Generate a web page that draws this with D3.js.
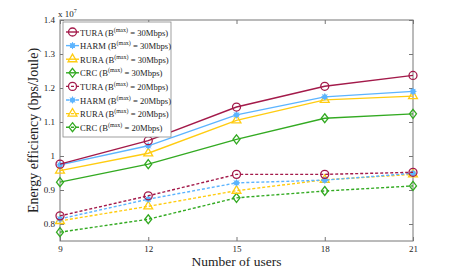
<!DOCTYPE html>
<html>
<head>
<meta charset="utf-8">
<script src="https://cdn.jsdelivr.net/npm/d3@7"></script>
<style>
  body { margin: 0; background: #fff; }
  svg text { font-family: "Liberation Serif", "Times New Roman", serif; fill: #222; }
</style>
</head>
<body>
<div id="chart"></div>
<script>
const users = [9, 12, 15, 18, 21];
const yTicks = [0.8, 0.9, 1, 1.1, 1.2, 1.3, 1.4];

const tura30 = [0.976, 1.045, 1.144, 1.205, 1.237];
const harm30 = [0.974, 1.030, 1.121, 1.174, 1.190];
const rura30 = [0.957, 1.008, 1.105, 1.165, 1.176];
const crc30  = [0.923, 0.976, 1.049, 1.111, 1.124];
const tura20 = [0.824, 0.883, 0.946, 0.946, 0.952];
const harm20 = [0.815, 0.873, 0.921, 0.929, 0.949];
const rura20 = [0.809, 0.852, 0.898, 0.930, 0.946];
const crc20  = [0.776, 0.814, 0.877, 0.897, 0.912];

const series = [
    { name: "TURA", bw: "30Mbps", values: tura30, color: "#a31a4a", marker: "circle", dash: null },
    { name: "HARM", bw: "30Mbps", values: harm30, color: "#5cb4ff", marker: "star", dash: null },
    { name: "RURA", bw: "30Mbps", values: rura30, color: "#ffcc11", marker: "triangle", dash: null },
    { name: "CRC",  bw: "30Mbps", values: crc30,  color: "#33aa22", marker: "diamond", dash: null },
    { name: "TURA", bw: "20Mbps", values: tura20, color: "#a31a4a", marker: "circle", dash: "3,2" },
    { name: "HARM", bw: "20Mbps", values: harm20, color: "#5cb4ff", marker: "star", dash: "3,2" },
    { name: "RURA", bw: "20Mbps", values: rura20, color: "#ffcc11", marker: "triangle", dash: "3,2" },
    { name: "CRC",  bw: "20Mbps", values: crc20,  color: "#33aa22", marker: "diamond", dash: "3,2" }
];

const W = 457, H = 271;
const margin = { top: 20, right: 44, bottom: 30, left: 60 };
const width = W - margin.left - margin.right;
const height = H - margin.top - margin.bottom;

const svg = d3.select("#chart").append("svg")
    .attr("width", W).attr("height", H);
const g = svg.append("g").attr("transform", `translate(${margin.left},${margin.top})`);

const x = d3.scaleLinear().domain([9, 21]).range([0, width]);
const y = d3.scaleLinear().domain([0.75, 1.4]).range([height, 0]);

// frame
g.append("rect").attr("width", width).attr("height", height)
    .attr("fill", "none").attr("stroke", "#777").attr("stroke-width", 1);

const axisStyle = sel => {
    sel.select(".domain").remove();
    sel.selectAll("line").attr("stroke", "#777");
    sel.selectAll("text").attr("font-size", 9).attr("fill", "#222");
};

g.append("g").attr("transform", `translate(0,${height})`)
    .call(d3.axisBottom(x).tickValues(users).tickSize(-4).tickPadding(5).tickFormat(d3.format("d")))
    .call(axisStyle);
g.append("g")
    .call(d3.axisTop(x).tickValues(users).tickSize(-4).tickFormat(""))
    .call(axisStyle);
g.append("g")
    .call(d3.axisLeft(y).tickValues(yTicks).tickSize(-4).tickPadding(5).tickFormat(d => d3.format("~g")(d)))
    .call(axisStyle);
g.append("g").attr("transform", `translate(${width},0)`)
    .call(d3.axisRight(y).tickValues(yTicks).tickSize(-4).tickFormat(""))
    .call(axisStyle);

// exponent
const ex = svg.append("text").attr("x", margin.left - 2).attr("y", 17).attr("font-size", 9);
ex.append("tspan").text("x 10");
ex.append("tspan").attr("dy", -4).attr("font-size", 6).text("7");

// axis labels
svg.append("text").attr("x", margin.left + width / 2).attr("y", 266)
    .attr("text-anchor", "middle").attr("font-size", 13.5).text("Number of users");
svg.append("text").attr("transform", `translate(38,${margin.top + height / 2}) rotate(-90)`)
    .attr("text-anchor", "middle").attr("font-size", 14).text("Energy efficiency (bps/Joule)");

function drawMarker(sel, type, color) {
    if (type === "circle") {
        sel.append("circle").attr("r", 4).attr("fill", "none").attr("stroke", color).attr("stroke-width", 1.3);
    } else if (type === "star") {
        sel.append("circle").attr("r", 2.6).attr("fill", color);
        sel.append("path").attr("d", "M-3.5,0H3.5M0,-3.5V3.5M-2.5,-2.5L2.5,2.5M-2.5,2.5L2.5,-2.5")
            .attr("stroke", color).attr("stroke-width", 1);
    } else if (type === "triangle") {
        sel.append("path").attr("d", d3.symbol(d3.symbolTriangle, 34)())
            .attr("fill", "none").attr("stroke", color).attr("stroke-width", 1.3);
    } else if (type === "diamond") {
        sel.append("path").attr("d", "M0,-4.5L3.5,0L0,4.5L-3.5,0Z")
            .attr("fill", "none").attr("stroke", color).attr("stroke-width", 1.3);
    }
}

const line = d3.line().x((d, i) => x(users[i])).y(d => y(d));

// draw dashed first, solid on top
series.slice().reverse().forEach(s => {
    g.append("path").datum(s.values)
        .attr("fill", "none").attr("stroke", s.color).attr("stroke-width", 1.4)
        .attr("stroke-dasharray", s.dash)
        .attr("d", line);
    s.values.forEach((v, i) => {
        const m = g.append("g").attr("transform", `translate(${x(users[i])},${y(v)})`);
        drawMarker(m, s.marker, s.color);
    });
});

// legend
const lg = svg.append("g").attr("transform", "translate(63,22)");
lg.append("rect").attr("width", 108).attr("height", 115)
    .attr("fill", "#fff").attr("stroke", "#888").attr("stroke-width", 0.8);
series.forEach((s, i) => {
    const row = lg.append("g").attr("transform", `translate(0,${10 + i * 13.6})`);
    row.append("line").attr("x1", 3).attr("x2", 16).attr("stroke", s.color)
        .attr("stroke-width", 1.4).attr("stroke-dasharray", s.dash);
    const m = row.append("g").attr("transform", "translate(9.5,0)");
    drawMarker(m, s.marker, s.color);
    const t = row.append("text").attr("x", 17).attr("y", 3.5).attr("font-size", 8.6);
    t.append("tspan").text(s.name + " (B");
    t.append("tspan").attr("dy", -4).attr("font-size", 6).text("(max)");
    t.append("tspan").attr("dy", 4).text(" = " + s.bw + ")");
});
</script>
</body>
</html>
